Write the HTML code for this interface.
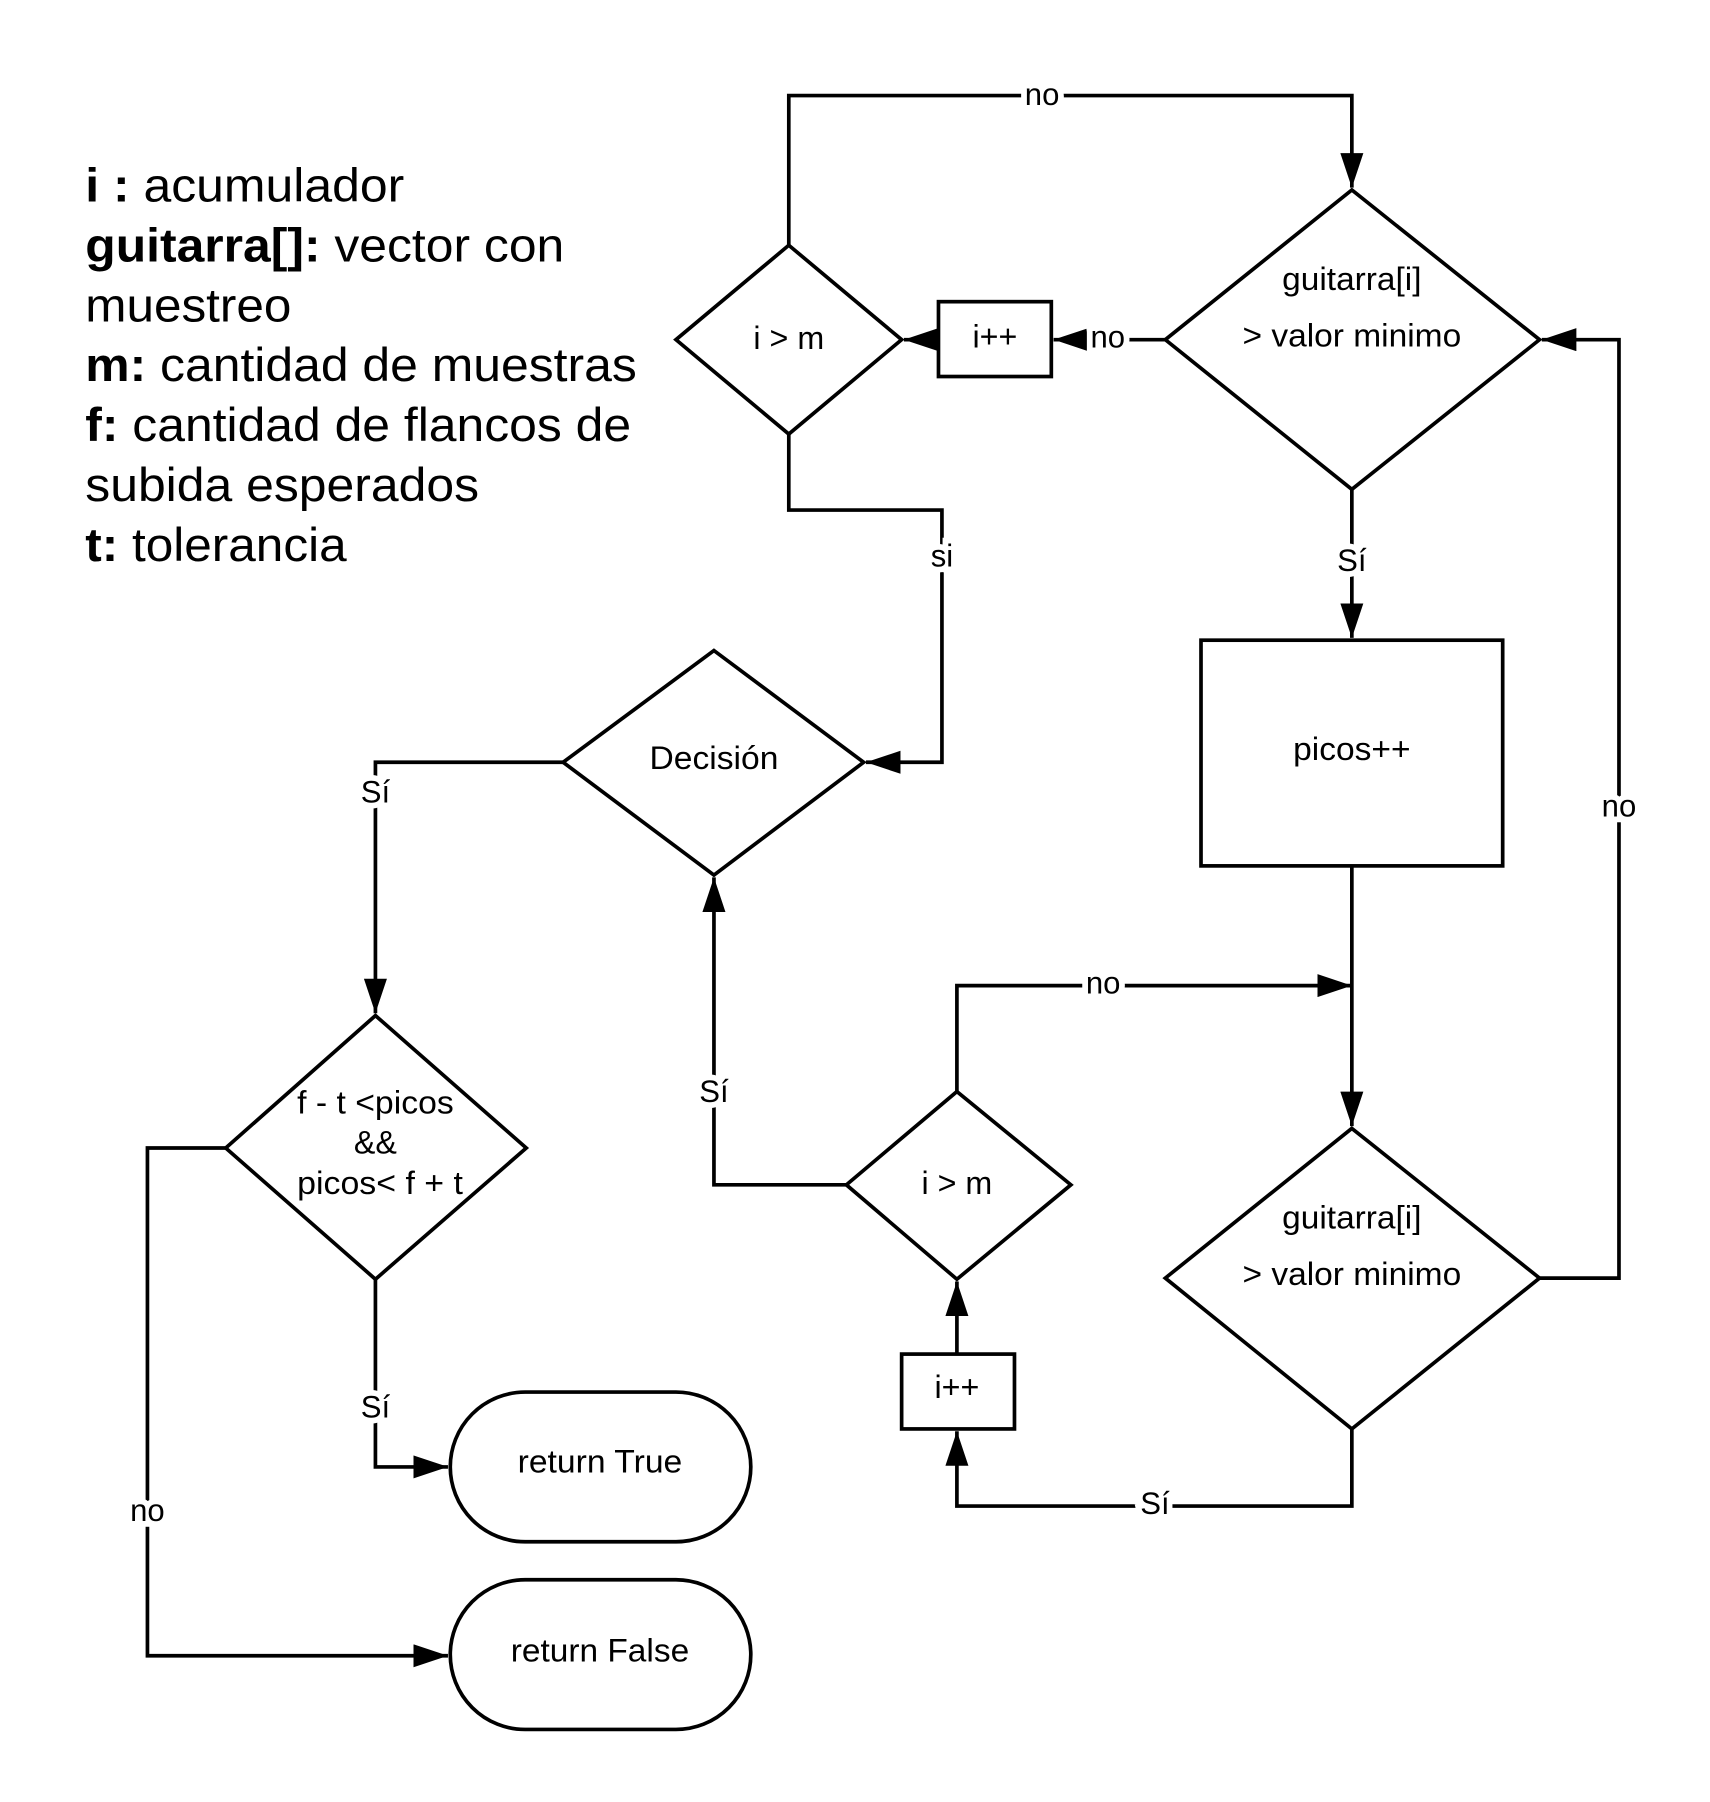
<!DOCTYPE html>
<html><head><meta charset="utf-8"><style>
html,body{margin:0;padding:0;background:#fff;}
svg{display:block;}
text{font-family:"Liberation Sans",sans-serif;fill:#000;}
.l{font-size:27px;text-anchor:middle;stroke:#fff;stroke-width:10px;paint-order:stroke;}
.n{font-size:28px;text-anchor:middle;}
.g{font-size:41px;}
</style></head><body>
<svg width="1710" height="1802" viewBox="0 0 1485 1565" xmlns="http://www.w3.org/2000/svg">
<defs>
<marker id="a" markerWidth="30" markerHeight="20" refX="30" refY="10" orient="auto" markerUnits="userSpaceOnUse">
<path d="M0,0 L30,10 L0,20 Z" fill="#000"/>
</marker>
</defs>
<g fill="none" stroke="#000" stroke-width="3.2">
<polygon points="685,213 783,295 685,377 587,295" fill="#fff"/>
<rect x="815" y="262" width="98" height="65" fill="#fff"/>
<polygon points="1174,165 1337,295 1174,425 1012,295" fill="#fff"/>
<polygon points="620,565 750,662 620,760 489,662" fill="#fff"/>
<polygon points="326,882 457,997 326,1111 196,997" fill="#fff"/>
<rect x="391" y="1209" width="261" height="130" rx="65" ry="65" fill="#fff"/>
<rect x="391" y="1372" width="261" height="130" rx="65" ry="65" fill="#fff"/>
<rect x="1043" y="556" width="262" height="196" fill="#fff"/>
<polygon points="1174,980 1337,1110 1174,1241 1012,1110" fill="#fff"/>
<rect x="783" y="1176" width="98" height="65" fill="#fff"/>
<polygon points="831,948 930,1029 831,1111 735,1029" fill="#fff"/>
<polyline points="685,213 685,83 1174,83 1174,163" marker-end="url(#a)"/>
<polyline points="1012,295 915,295" marker-end="url(#a)"/>
<polyline points="815,295 785,295" marker-end="url(#a)"/>
<polyline points="685,377 685,443 818,443 818,662 752,662" marker-end="url(#a)"/>
<polyline points="489,662 326,662 326,880" marker-end="url(#a)"/>
<polyline points="326,1111 326,1274 389,1274" marker-end="url(#a)"/>
<polyline points="196,997 128,997 128,1438 389,1438" marker-end="url(#a)"/>
<polyline points="1174,425 1174,554" marker-end="url(#a)"/>
<polyline points="1174,752 1174,978" marker-end="url(#a)"/>
<polyline points="1337,1110 1406,1110 1406,295 1339,295" marker-end="url(#a)"/>
<polyline points="1174,1241 1174,1308 831,1308 831,1243" marker-end="url(#a)"/>
<polyline points="831,1176 831,1113" marker-end="url(#a)"/>
<polyline points="831,948 831,856 1174,856" marker-end="url(#a)"/>
<polyline points="735,1029 620,1029 620,762" marker-end="url(#a)"/>
</g>
<text class="g" x="74" y="175" textLength="277" lengthAdjust="spacingAndGlyphs"><tspan font-weight="bold">i :</tspan> acumulador</text>
<text class="g" x="74" y="227" textLength="416" lengthAdjust="spacingAndGlyphs"><tspan font-weight="bold">guitarra[]:</tspan> vector con</text>
<text class="g" x="74" y="279" textLength="179" lengthAdjust="spacingAndGlyphs">muestreo</text>
<text class="g" x="74" y="331" textLength="479" lengthAdjust="spacingAndGlyphs"><tspan font-weight="bold">m:</tspan> cantidad de muestras</text>
<text class="g" x="74" y="383" textLength="474" lengthAdjust="spacingAndGlyphs"><tspan font-weight="bold">f:</tspan> cantidad de flancos de</text>
<text class="g" x="74" y="435" textLength="342" lengthAdjust="spacingAndGlyphs">subida esperados</text>
<text class="g" x="74" y="487" textLength="227" lengthAdjust="spacingAndGlyphs"><tspan font-weight="bold">t:</tspan> tolerancia</text>
<text class="n" x="685" y="303">i &gt; m</text>
<text class="n" x="864" y="302">i++</text>
<text class="n" x="1174" y="252" textLength="121" lengthAdjust="spacingAndGlyphs">guitarra[i]</text>
<text class="n" x="1174" y="301" textLength="190" lengthAdjust="spacingAndGlyphs">&gt; valor minimo</text>
<text class="n" x="620" y="668" textLength="112" lengthAdjust="spacingAndGlyphs">Decisión</text>
<text class="n" x="326" y="967" textLength="136" lengthAdjust="spacingAndGlyphs">f - t &lt;picos</text>
<text class="n" x="326" y="1002">&amp;&amp;</text>
<text class="n" x="330" y="1037" textLength="144" lengthAdjust="spacingAndGlyphs">picos&lt; f + t</text>
<text class="n" x="521" y="1279" textLength="143" lengthAdjust="spacingAndGlyphs">return True</text>
<text class="n" x="521" y="1443" textLength="155" lengthAdjust="spacingAndGlyphs">return False</text>
<text class="n" x="1174" y="660" textLength="102" lengthAdjust="spacingAndGlyphs">picos++</text>
<text class="n" x="1174" y="1067" textLength="121" lengthAdjust="spacingAndGlyphs">guitarra[i]</text>
<text class="n" x="1174" y="1116" textLength="190" lengthAdjust="spacingAndGlyphs">&gt; valor minimo</text>
<text class="n" x="831" y="1214">i++</text>
<text class="n" x="831" y="1037">i &gt; m</text>
<text class="l" x="905" y="91">no</text>
<text class="l" x="962" y="302">no</text>
<text class="l" x="818" y="492">si</text>
<text class="l" x="326" y="697">Sí</text>
<text class="l" x="326" y="1231">Sí</text>
<text class="l" x="128" y="1321">no</text>
<text class="l" x="1174" y="496">Sí</text>
<text class="l" x="1406" y="709">no</text>
<text class="l" x="1003" y="1315">Sí</text>
<text class="l" x="958" y="863">no</text>
<text class="l" x="620" y="957">Sí</text>
</svg>
</body></html>
